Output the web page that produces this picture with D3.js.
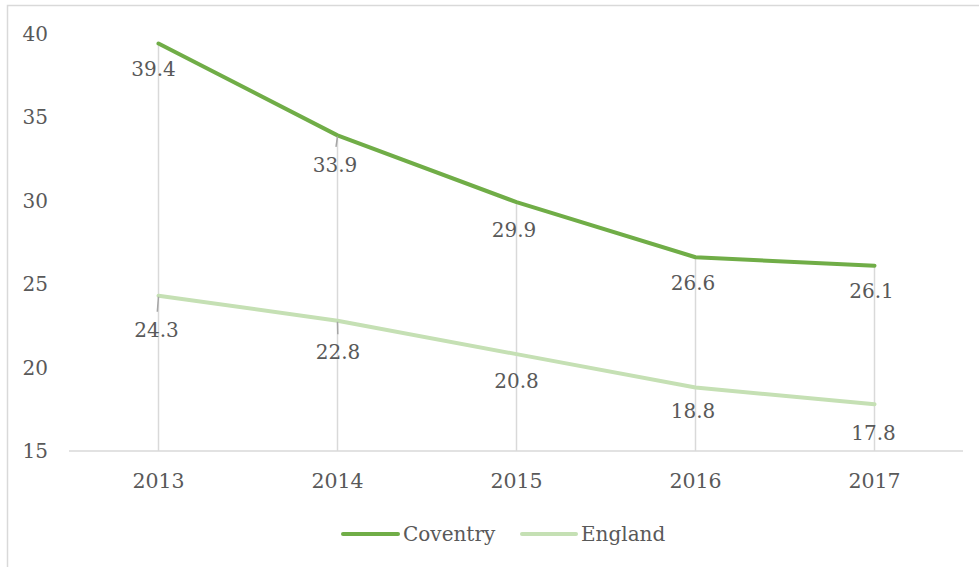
<!DOCTYPE html>
<html>
<head>
<meta charset="utf-8">
<script src="https://cdn.jsdelivr.net/npm/d3@7"></script>
<style>
  html, body { margin: 0; padding: 0; background: #fff; }
  svg { display: block; }
  text { font-family: "DejaVu Serif", "Liberation Serif", serif; fill: #595959; }
</style>
</head>
<body>
<svg id="chart" width="979" height="567"></svg>
<script>
// Rates by year
const years = ["2013", "2014", "2015", "2016", "2017"];
const coventry = [39.4, 33.9, 29.9, 26.6, 26.1];
const england = [24.3, 22.8, 20.8, 18.8, 17.8];
const yTicks = [15, 20, 25, 30, 35, 40];
const seriesNames = ["Coventry", "England"];

// Label placement (pixels below each point, horizontal nudge)
const labelDrop = { Coventry: [25, 29.5, 28, 25.5, 25.5], England: [34, 31.5, 27, 23, 28.5] };
const labelShift = { Coventry: [-5, -2.5, -2.5, -2.5, -3], England: [-2, 0.5, 0, -2.5, -1] };

const colors = { Coventry: "#70ad47", England: "#c5e0b4" };
const grid = "#d9d9d9";

const svg = d3.select("#chart");

// chart area border
svg.append("rect")
  .attr("x", 7.5).attr("y", 5.5)
  .attr("width", 1200).attr("height", 1200)
  .attr("fill", "none").attr("stroke", grid).attr("stroke-width", 1.5);

const x = d3.scalePoint().domain(years).range([69, 964]).padding(0.5);
const y = d3.scaleLinear().domain([15, 40]).range([451, 33.5]);

// y tick labels
svg.append("g").selectAll("text")
  .data(yTicks).join("text")
  .attr("x", 48).attr("y", d => y(d))
  .attr("dy", "0.36em")
  .attr("text-anchor", "end")
  .attr("font-size", 20)
  .text(d => d);

// drop lines from the upper series to the axis
svg.append("g").selectAll("line")
  .data(years).join("line")
  .attr("x1", d => x(d)).attr("x2", d => x(d))
  .attr("y1", (d, i) => y(Math.max(coventry[i], england[i])))
  .attr("y2", y(15))
  .attr("stroke", grid).attr("stroke-width", 1.5);

// x axis line
svg.append("line")
  .attr("x1", 69).attr("x2", 963)
  .attr("y1", y(15)).attr("y2", y(15))
  .attr("stroke", grid).attr("stroke-width", 1.5);

// category labels
svg.append("g").selectAll("text")
  .data(years).join("text")
  .attr("x", d => x(d)).attr("y", 481)
  .attr("dy", "0.36em")
  .attr("text-anchor", "middle")
  .attr("font-size", 20.5)
  .text(d => d);

const series = [
  { name: "Coventry", values: coventry },
  { name: "England", values: england }
];

const line = d3.line()
  .x((d, i) => x(years[i]))
  .y(d => y(d));

// draw England first so Coventry sits on top
[series[1], series[0]].forEach(s => {
  svg.append("path")
    .datum(s.values)
    .attr("d", line)
    .attr("fill", "none")
    .attr("stroke", colors[s.name])
    .attr("stroke-width", 4)
    .attr("stroke-linejoin", "round")
    .attr("stroke-linecap", "round");
});

// data labels with leader lines where they sit far from the point
series.forEach(s => {
  const g = svg.append("g");
  s.values.forEach((v, i) => {
    const px = x(years[i]), py = y(v);
    const lx = px + labelShift[s.name][i];
    const ly = py + labelDrop[s.name][i];
    if (labelDrop[s.name][i] >= 29.5) {
      g.append("line")
        .attr("x1", px).attr("y1", py + 1)
        .attr("x2", px + (lx - px) * 0.6).attr("y2", ly - 18)
        .attr("stroke", "#a6a6a6").attr("stroke-width", 1.5);
    }
    g.append("text")
      .attr("x", lx).attr("y", ly)
      .attr("dy", "0.36em")
      .attr("text-anchor", "middle")
      .attr("font-size", 20)
      .text(v.toFixed(1));
  });
});

// legend
const legendPos = [{ x1: 343, x2: 398, tx: 403 }, { x1: 522, x2: 576, tx: 581 }];
const legend = svg.append("g");
seriesNames.forEach((name, i) => {
  const p = legendPos[i];
  legend.append("line")
    .attr("x1", p.x1).attr("x2", p.x2)
    .attr("y1", 534).attr("y2", 534)
    .attr("stroke", colors[name]).attr("stroke-width", 4)
    .attr("stroke-linecap", "round");
  legend.append("text")
    .attr("x", p.tx).attr("y", 534)
    .attr("dy", "0.36em")
    .attr("font-size", 20)
    .text(name);
});
</script>
</body>
</html>
